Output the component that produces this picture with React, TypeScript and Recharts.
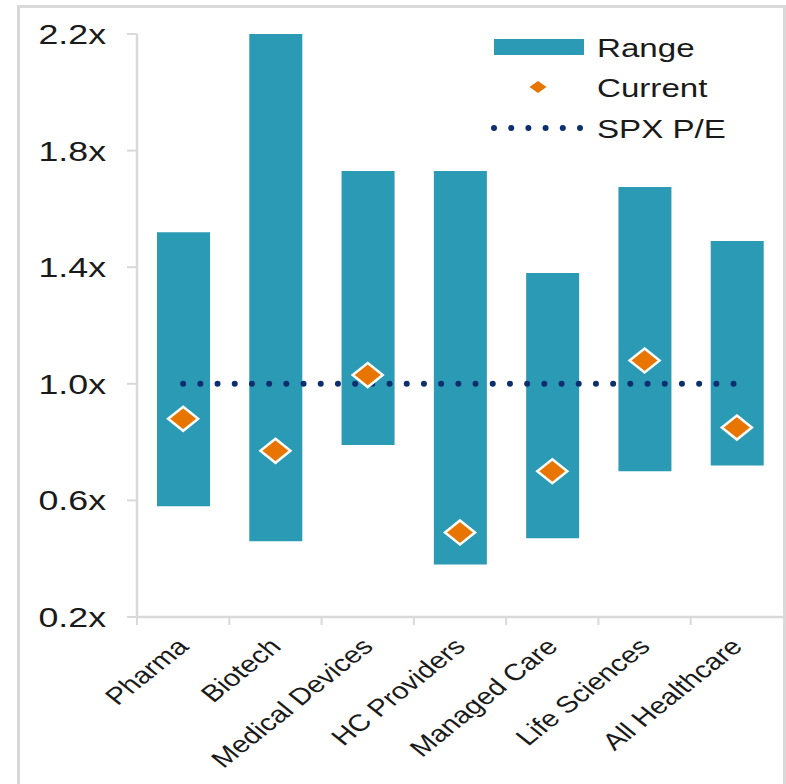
import React from 'react';
import { ComposedChart, Bar, Line, XAxis, YAxis } from 'recharts';

const sectors = ['Pharma', 'Biotech', 'Medical Devices', 'HC Providers', 'Managed Care', 'Life Sciences', 'All Healthcare'];
const rangeLow = [0.58, 0.46, 0.79, 0.38, 0.47, 0.7, 0.72];
const rangeHigh = [1.52, 2.2, 1.73, 1.73, 1.38, 1.675, 1.49];
const current = [0.88, 0.77, 1.03, 0.49, 0.7, 1.08, 0.85];
const spxPe = [1.0, 1.0, 1.0, 1.0, 1.0, 1.0, 1.0];
const yTicks = [0.2, 0.6, 1.0, 1.4, 1.8, 2.2];

const data = sectors.map((name, i) => ({
  name,
  range: [rangeLow[i], rangeHigh[i]],
  current: current[i],
  spx: spxPe[i],
}));

const WIDTH = 786;
const HEIGHT = 784;
const Y_AXIS_W = 137;
const X_AXIS_H = 167;
const MARGIN = { top: 34, right: 3, bottom: 0, left: 0 };
const BAND = (WIDTH - MARGIN.right - Y_AXIS_W) / sectors.length;

const TEAL = '#2b9ab4';
const ORANGE = '#e87500';
const NAVY = '#0d2f6e';
const AXIS = '#d9d9d9';
const FONT = '"Liberation Sans", Arial, sans-serif';
// the source deck renders text a little wide
const STRETCH = 1.25;

const YTick = ({ x, y, payload }: any) => (
  <text
    transform={`translate(${x},${y}) scale(${STRETCH + 0.05},1)`}
    textAnchor="end"
    dy="0.36em"
    fontSize={27.5}
    fontFamily={FONT}
    fill="#1a1a1a"
  >
    {`${payload.value.toFixed(1)}x`}
  </text>
);

const XTick = ({ x, y, payload }: any) => (
  <g>
    <line x1={x - BAND / 2} x2={x - BAND / 2} y1={y} y2={y + 8} stroke={AXIS} strokeWidth={2} />
    <text
      transform={`translate(${x + 7},${y + 31}) scale(${STRETCH},1) rotate(-45)`}
      textAnchor="end"
      fontSize={23.5}
      fontFamily={FONT}
      fill="#1a1a1a"
    >
      {payload.value}
    </text>
  </g>
);

const Diamond = (props: any) => {
  const { cx, cy, index } = props;
  if (cx == null || cy == null) return null;
  const w = 15;
  const h = 12;
  return (
    <polygon
      key={`cur-${index}`}
      points={`${cx},${cy - h} ${cx + w},${cy} ${cx},${cy + h} ${cx - w},${cy}`}
      fill={ORANGE}
      stroke="#fff"
      strokeWidth={2.5}
    />
  );
};

const LegendBox = () => {
  const label = (text: string, y: number) => (
    <text
      transform={`translate(597,${y}) scale(${STRETCH},1)`}
      dy="0.36em"
      fontSize={26.5}
      fontFamily={FONT}
      fill="#1a1a1a"
    >
      {text}
    </text>
  );
  return (
    <svg width={WIDTH} height={HEIGHT} style={{ position: 'absolute', left: 0, top: 0, pointerEvents: 'none' }}>
      <rect x={494} y={39} width={90} height={16} fill={TEAL} />
      {label('Range', 47)}
      <polygon points="538,81 546.5,87 538,93 529.5,87" fill={ORANGE} />
      {label('Current', 87)}
      <line x1={494} x2={582} y1={128} y2={128} stroke={NAVY} strokeWidth={6} strokeDasharray="0 17.2" strokeLinecap="round" />
      {label('SPX P/E', 128)}
    </svg>
  );
};

export default function App() {
  return (
    <div style={{ position: 'absolute', left: 0, top: 0, width: WIDTH, height: HEIGHT, overflow: 'hidden', background: '#fff' }}>
      <div
        style={{
          position: 'absolute',
          left: 17,
          top: 5,
          width: 763,
          height: 820,
          border: `3px solid ${AXIS}`,
        }}
      />
      <div style={{ position: 'absolute', left: 0, top: 0 }}>
        <ComposedChart width={WIDTH} height={HEIGHT} data={data} margin={MARGIN} barCategoryGap={0}>
          <XAxis
            dataKey="name"
            type="category"
            height={X_AXIS_H}
            axisLine={{ stroke: AXIS, strokeWidth: 2.5 }}
            tickLine={false}
            tickSize={0}
            tickMargin={0}
            interval={0}
            tick={<XTick />}
          />
          <YAxis
            type="number"
            domain={[0.2, 2.2]}
            ticks={yTicks}
            width={Y_AXIS_W}
            axisLine={{ stroke: AXIS, strokeWidth: 2.5 }}
            tickLine={{ stroke: AXIS, strokeWidth: 2 }}
            tickSize={10}
            tickMargin={21}
            allowDataOverflow
            tick={<YTick />}
          />
          <Bar dataKey="range" fill={TEAL} barSize={53} isAnimationActive={false} />
          <Line
            dataKey="spx"
            stroke={NAVY}
            strokeWidth={6}
            strokeDasharray="0 17.2"
            strokeLinecap="round"
            dot={false}
            activeDot={false}
            isAnimationActive={false}
          />
          <Line
            dataKey="current"
            stroke="none"
            dot={<Diamond />}
            activeDot={false}
            isAnimationActive={false}
          />
        </ComposedChart>
      </div>
      <LegendBox />
    </div>
  );
}
